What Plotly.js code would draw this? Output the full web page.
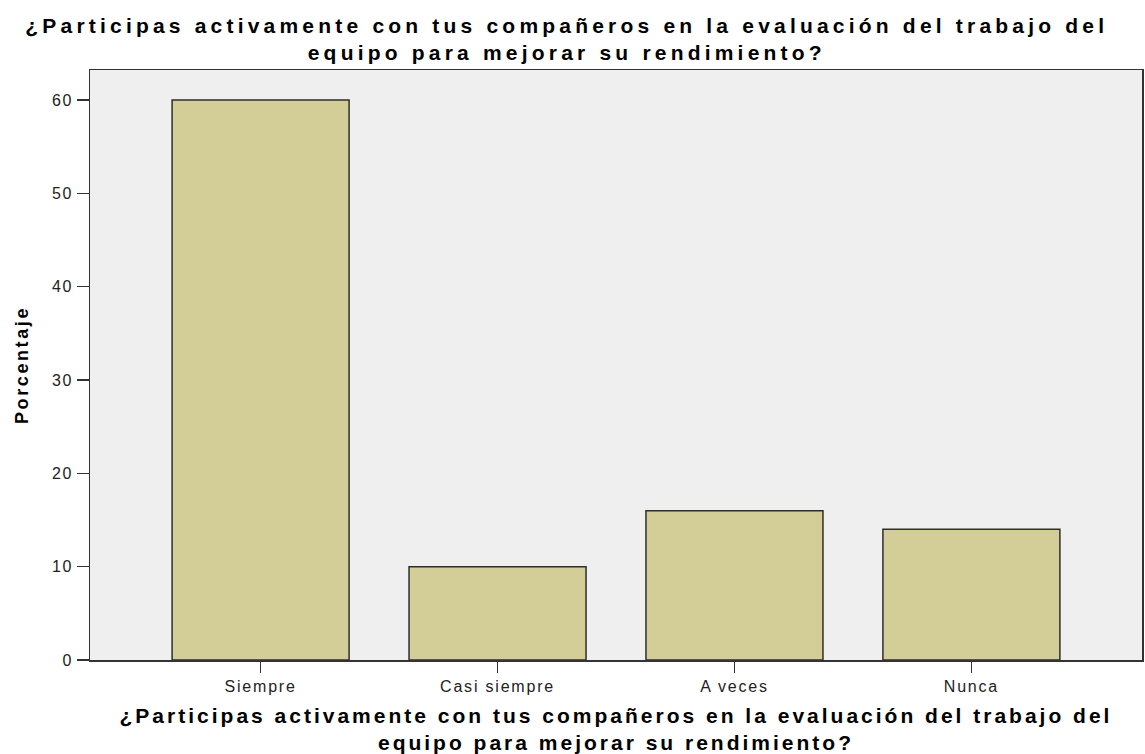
<!DOCTYPE html>
<html>
<head>
<meta charset="utf-8">
<script src="https://cdn.plot.ly/plotly-3.0.1.min.js"></script>
<style>
  html, body { margin: 0; padding: 0; background: #fff; }
  #chart { width: 1145px; height: 754px; }
  .gtitle { letter-spacing: 4.2px; }
  .xtitle { letter-spacing: 3px; }
  .ytitle { letter-spacing: 2.6px; }
  .xtick text, .ytick text { letter-spacing: 1.8px; }
</style>
</head>
<body>
<div id="chart"></div>
<script>
const categories = ["Siempre", "Casi siempre", "A veces", "Nunca"];
const percents = [60, 10, 16, 14];
const yTicks = [0, 10, 20, 30, 40, 50, 60];

const question = "¿Participas activamente con tus compañeros en la evaluación del trabajo del<br>equipo para mejorar su rendimiento?";

const font = "'Liberation Sans', Arial, sans-serif";

const trace = {
  type: "bar",
  x: categories,
  y: percents,
  width: 0.747,
  marker: {
    color: "#d3ce97",
    line: { color: "#2e2e2e", width: 1.5 }
  },
  hoverinfo: "x+y"
};

const layout = {
  width: 1145,
  height: 754,
  paper_bgcolor: "#ffffff",
  plot_bgcolor: "#efefef",
  margin: { l: 90, r: 3, t: 70, b: 94 },
  showlegend: false,
  font: { family: font, color: "#222" },
  title: {
    text: "<b>" + question + "</b>",
    font: { family: font, size: 21, color: "#000" },
    xref: "container",
    x: 0.495,
    xanchor: "center",
    yref: "container",
    y: 0.956,
    yanchor: "top"
  },
  xaxis: {
    type: "category",
    range: [-0.72, 3.72],
    showline: true,
    linecolor: "#333",
    linewidth: 1.5,
    mirror: true,
    ticks: "outside",
    ticklen: 11,
    tickwidth: 1.5,
    tickcolor: "#333",
    tickfont: { family: font, size: 16, color: "#222" },
    showgrid: false,
    zeroline: false,
    title: {
      text: "<b>" + question + "</b>",
      font: { family: font, size: 21, color: "#000" },
      standoff: 16
    }
  },
  yaxis: {
    range: [0, 63.21],
    tickvals: yTicks,
    ticktext: yTicks.map(String),
    showline: true,
    linecolor: "#333",
    linewidth: 1.5,
    mirror: true,
    ticks: "outside",
    ticklen: 12,
    tickwidth: 1.5,
    tickcolor: "#333",
    ticklabelstandoff: 0,
    tickfont: { family: font, size: 16, color: "#222" },
    showgrid: false,
    zeroline: false,
    title: {
      text: "<b>Porcentaje</b>",
      font: { family: font, size: 18, color: "#000" },
      standoff: 18
    }
  }
};

Plotly.newPlot("chart", [trace], layout, { displayModeBar: false, staticPlot: true });
</script>
</body>
</html>
